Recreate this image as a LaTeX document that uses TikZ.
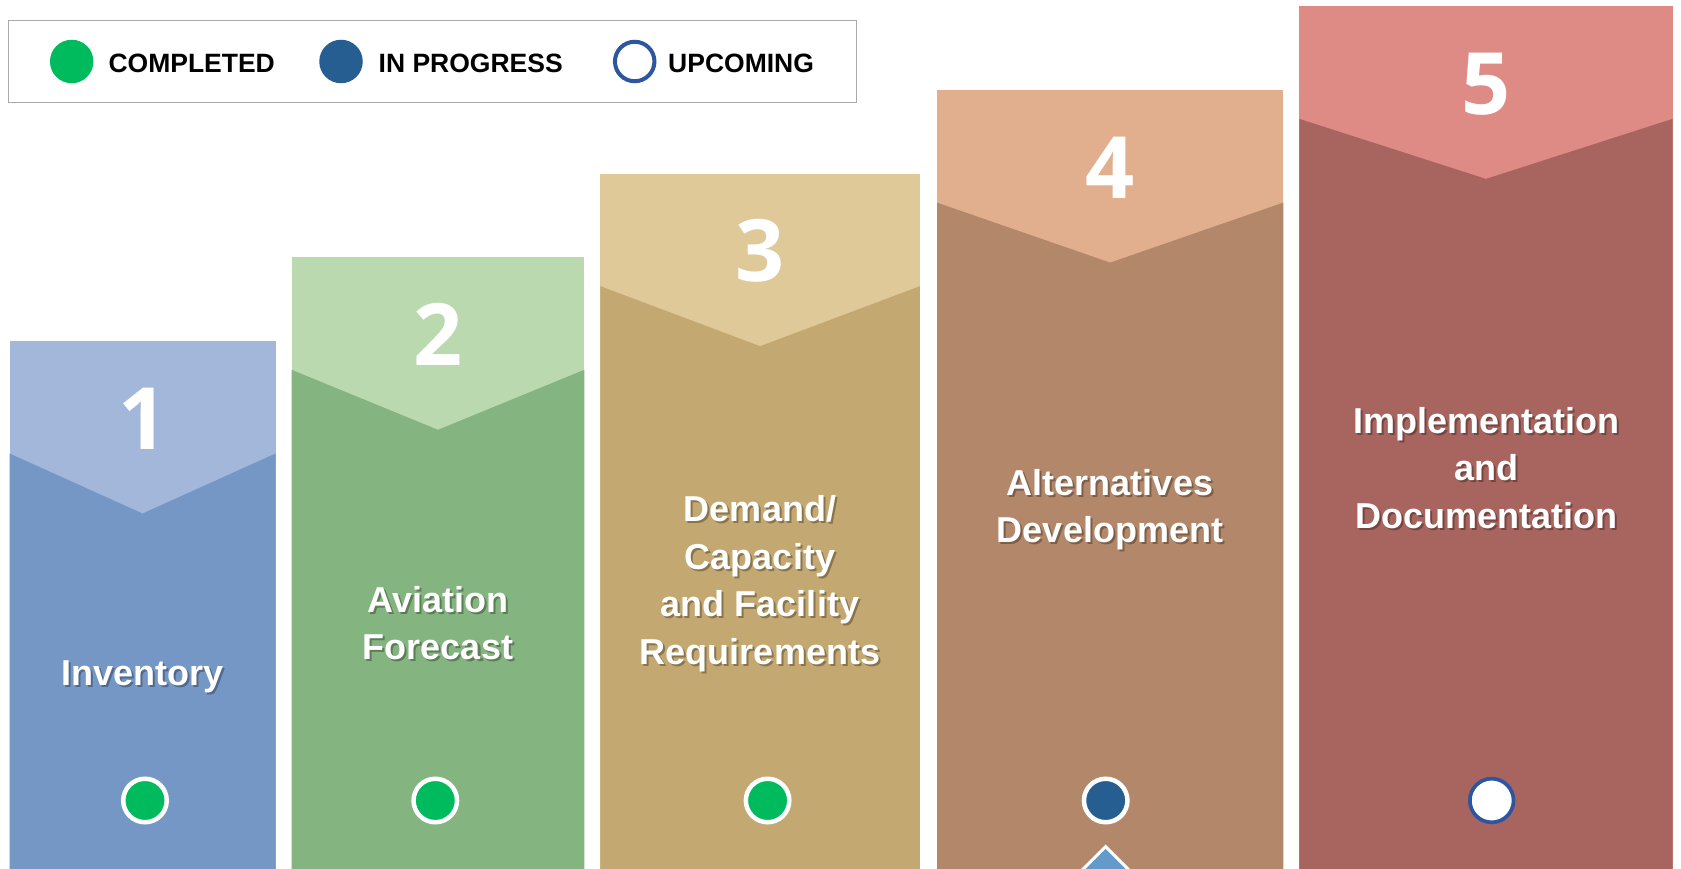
\documentclass[tikz,border=0pt]{standalone}
\usepackage{fontspec}
\setmainfont{Liberation Sans}
\newfontfamily\numfont{Open Sans}
\usetikzlibrary{shapes.geometric}
\definecolor{cAt}{HTML}{A3B7DA}\definecolor{cAb}{HTML}{7597C6}
\definecolor{cBt}{HTML}{BBD9AF}\definecolor{cBb}{HTML}{84B47F}
\definecolor{cCt}{HTML}{DFC999}\definecolor{cCb}{HTML}{C3A871}
\definecolor{cDt}{HTML}{E2AF8E}\definecolor{cDb}{HTML}{B3876A}
\definecolor{cEt}{HTML}{DE8B86}\definecolor{cEb}{HTML}{A8645F}
\definecolor{cgreen}{HTML}{00BA5E}
\definecolor{cprog}{HTML}{265E92}
\definecolor{cup}{HTML}{2E55A0}
\definecolor{cdiam}{HTML}{6399CB}
\definecolor{cframe}{HTML}{AAAAAA}
\tikzset{
  numstyle/.style={anchor=base, inner sep=0, text=white, font=\numfont\bfseries\fontsize{86}{86}\selectfont},
  steptext/.style={align=center, inner sep=0, text=white, font=\bfseries\fontsize{36}{47.5}\selectfont},
  shadowtext/.style={align=center, inner sep=0, text=black, text opacity=0.3, font=\bfseries\fontsize{36}{47.5}\selectfont},
  legtext/.style={anchor=west, inner sep=0, font=\bfseries\fontsize{26.5}{30}\selectfont},
  statusdot/.style={circle, inner sep=0, minimum size=43.5pt, line width=4.5pt, draw=white},
  legdot/.style={circle, inner sep=0, minimum size=43.5pt},
}
\begin{document}
\begin{tikzpicture}[x=1pt,y=-1pt]
\useasboundingbox (0,0) rectangle (1681,869);
\clip (0,0) rectangle (1681,869);
\fill[white] (0,0) rectangle (1681,869);

% legend
\node[draw=cframe, line width=1.2pt, minimum width=848pt, minimum height=82.5pt, inner sep=0] (legend) at (432.6,61.65) {};
\node[legdot, fill=cgreen] (lg1) at (71.7,61.5) {};
\node[legtext] (lt1) at (108.3,63.5) {COMPLETED};
\node[legdot, fill=cprog] (lg2) at (341,61.5) {};
\node[legtext] (lt2) at (378.5,63.5) {IN PROGRESS};
\node[legdot, fill=white, draw=cup, line width=4pt, minimum size=39.5pt] (lg3) at (634.7,61.5) {};
\node[legtext] (lt3) at (668,63.5) {UPCOMING};

% columns
\foreach \i/\L/\R/\T/\ct/\cb in {1/9.6/275.5/341/cAt/cAb, 2/291.6/584.3/257.3/cBt/cBb, 3/600.4/919.9/173.7/cCt/cCb, 4/937/1283.3/90.1/cDt/cDb, 5/1299.4/1672.5/6.4/cEt/cEb}{
  \pgfmathsetmacro\C{(\L+\R)/2}
  \fill[\ct] (\L,\T) rectangle (\R,869);
  \fill[\cb] (\L,\T+112.5) -- (\C,\T+172.5) -- (\R,\T+112.5) -- (\R,869) -- (\L,869) -- cycle;
  \node[numstyle] (num\i) at (\C,\T+108) {\i};
}

% step texts with shadow
\node[shadowtext] (s1) at (144.5,679) {Inventory};
\node[steptext] (t1) at (142.5,677) {Inventory};
\node[shadowtext] (s2) at (440,625) {Aviation\\Forecast};
\node[steptext] (t2) at (438,623) {Aviation\\Forecast};
\node[shadowtext] (s3) at (762,585.5) {Demand/\\Capacity\\and Facility\\Requirements};
\node[steptext] (t3) at (760,583.5) {Demand/\\Capacity\\and Facility\\Requirements};
\node[shadowtext] (s4) at (1112,511.5) {Alternatives\\Development};
\node[steptext] (t4) at (1110,509.5) {Alternatives\\Development};
\node[shadowtext] (s5) at (1488,470) {Implementation\\and\\Documentation};
\node[steptext] (t5) at (1486,468) {Implementation\\and\\Documentation};

% status dots
\node[statusdot, fill=cgreen] (d1) at (145,800.5) {};
\node[statusdot, fill=cgreen] (d2) at (435.3,800.5) {};
\node[statusdot, fill=cgreen] (d3) at (767.6,800.5) {};
\node[statusdot, fill=cprog] (d4) at (1105.7,800.5) {};
\node[circle, inner sep=0, minimum size=43.7pt, line width=3.7pt, draw=cup, fill=white] (d5) at (1491.7,800.5) {};

% current-step marker
\node[diamond, fill=cdiam, draw=white, line width=3pt, inner sep=0, minimum size=84pt] (marker) at (1105.7,888) {};
\end{tikzpicture}
\end{document}
